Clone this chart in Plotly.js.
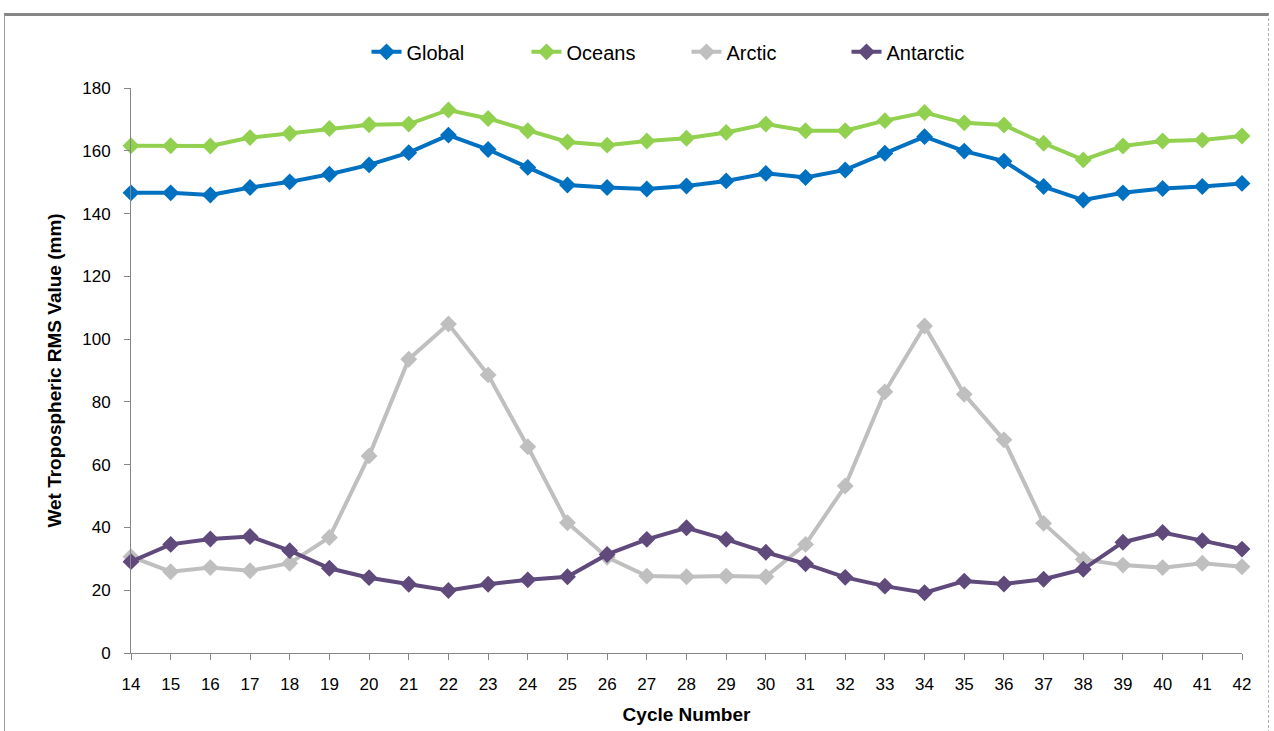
<!DOCTYPE html>
<html>
<head>
<meta charset="utf-8">
<script src="https://cdn.plot.ly/plotly-3.0.1.min.js"></script>
<style>
html,body{margin:0;padding:0;background:#fff;width:1274px;height:731px;overflow:hidden;}
#frame{position:absolute;left:4px;top:13px;width:1265px;height:740px;border-top:3px solid #868686;border-left:1px solid #9a9a9a;border-right:1px dashed #b0b0b0;box-sizing:border-box;}
#chart{position:absolute;left:0;top:0;width:1274px;height:731px;}
</style>
</head>
<body>
<div id="frame"></div>
<div id="chart"></div>
<script>
const cycles = [14,15,16,17,18,19,20,21,22,23,24,25,26,27,28,29,30,31,32,33,34,35,36,37,38,39,40,41,42];
const globalVals = [146.6,146.6,145.9,148.3,150.1,152.5,155.5,159.4,165.0,160.4,154.7,149.1,148.3,147.8,148.8,150.4,152.8,151.5,153.9,159.2,164.5,159.9,156.7,148.6,144.3,146.6,148.0,148.6,149.6];
const oceansVals = [161.6,161.6,161.5,164.2,165.5,167.1,168.3,168.5,173.0,170.3,166.4,162.8,161.8,163.1,164.0,165.8,168.5,166.4,166.4,169.6,172.2,168.9,168.2,162.4,157.1,161.5,163.1,163.4,164.7];
const arcticVals = [30.7,25.9,27.2,26.2,28.6,36.8,62.8,93.6,104.8,88.6,65.7,41.5,30.5,24.5,24.3,24.5,24.3,34.6,53.2,83.2,104.2,82.4,67.9,41.3,29.8,28.0,27.2,28.6,27.5];
const antarcticVals = [29.1,34.6,36.3,37.1,32.6,27.0,24.0,21.9,19.9,21.9,23.3,24.3,31.4,36.2,39.9,36.2,32.1,28.4,24.1,21.3,19.2,22.9,22.0,23.5,26.7,35.3,38.4,35.8,33.1];
const seriesNames = ["Global","Oceans","Arctic","Antarctic"];
const seriesColors = ["#0070C0","#92D050","#BFBFBF","#604A7B"];
const seriesData = [globalVals, oceansVals, arcticVals, antarcticVals];

const FONT = "'Liberation Sans', Arial, sans-serif";

const traces = seriesData.map((vals, i) => ({
  type: 'scatter',
  mode: 'lines+markers',
  name: seriesNames[i],
  x: cycles,
  y: vals,
  cliponaxis: false,
  line: {color: seriesColors[i], width: 4},
  marker: {symbol: 'diamond', size: 13, color: seriesColors[i]}
}));

const layout = {
  width: 1274, height: 731,
  paper_bgcolor: 'rgba(0,0,0,0)',
  plot_bgcolor: 'rgba(0,0,0,0)',
  margin: {l: 131, r: 32, t: 88, b: 78},
  showlegend: true,
  legend: {
    orientation: 'h', x: 0.5, xanchor: 'center', y: 1.064, yanchor: 'middle',
    font: {family: FONT, size: 20, color: '#000'},
    entrywidth: 115, entrywidthmode: 'pixels'
  },
  xaxis: {
    range: [14, 42],
    tickmode: 'array', tickvals: cycles, ticktext: cycles.map(String),
    showgrid: false, zeroline: false,
    showline: true, linecolor: '#868686', linewidth: 1,
    ticks: 'outside', ticklen: 6, tickcolor: '#868686',
    tickfont: {family: FONT, size: 17, color: '#000'},
    ticklabelstandoff: 10,
    title: {text: 'Cycle Number', font: {family: FONT, size: 19, color: '#000', weight: 'bold'}, standoff: 14}
  },
  yaxis: {
    range: [0, 180],
    tickmode: 'linear', tick0: 0, dtick: 20,
    showgrid: false, zeroline: false,
    showline: true, linecolor: '#868686', linewidth: 1,
    ticks: 'outside', ticklen: 6, tickcolor: '#868686',
    tickfont: {family: FONT, size: 17, color: '#000'},
    ticklabelstandoff: 10,
    title: {text: 'Wet Tropospheric RMS Value (mm)', font: {family: FONT, size: 19, color: '#000', weight: 'bold'}, standoff: 15}
  }
};

Plotly.newPlot('chart', traces, layout, {displayModeBar: false, staticPlot: true});
</script>
</body>
</html>
